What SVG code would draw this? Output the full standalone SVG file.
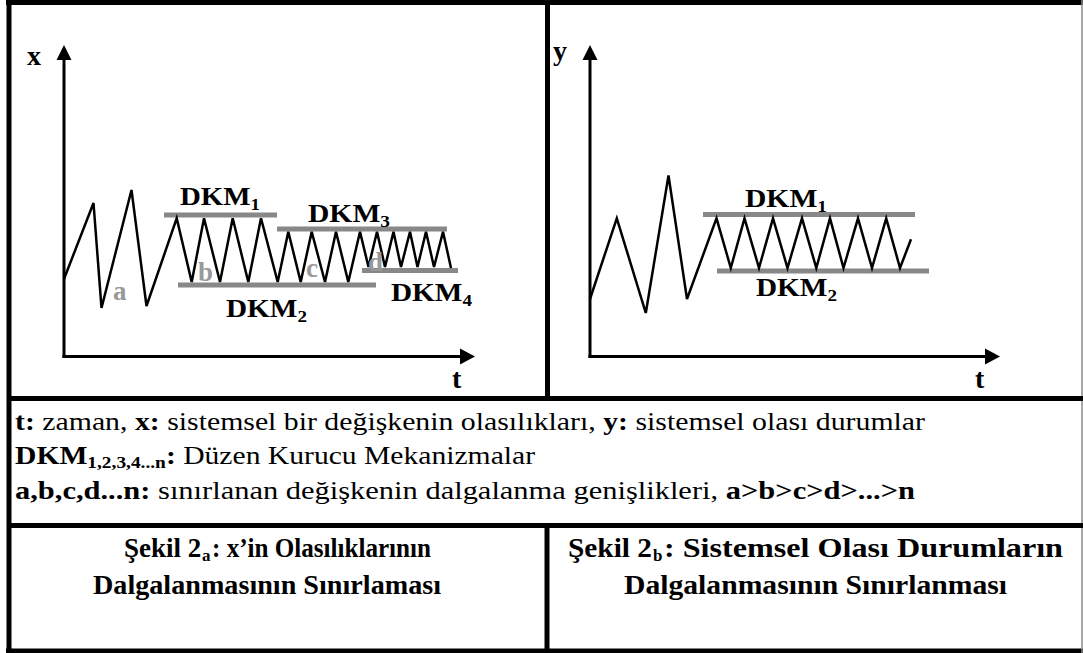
<svg xmlns="http://www.w3.org/2000/svg" width="1083" height="653" viewBox="0 0 1083 653" font-family="'Liberation Serif', Tinos, 'Times New Roman', Times, 'DejaVu Serif', serif">
<style>
text{font-family:'Liberation Serif', Tinos, 'Times New Roman', Times, 'DejaVu Serif', serif;fill:#000}
.b{font-weight:bold}
.lbl{font-size:28px;font-weight:bold}
.gl{font-size:27px;font-weight:bold;fill:#999}
.dkm{font-size:26px;font-weight:bold}
.sub{font-size:17px}
.body{font-size:26px}
.cap{font-size:27px;font-weight:bold}
.capsub{font-size:17px;font-weight:bold}
.frame{stroke:#000;stroke-width:5;fill:none}
.axis{stroke:#000;stroke-width:3;fill:none}
.zig{stroke:#000;stroke-width:2.5;fill:none;stroke-linejoin:miter}
.lim{stroke:#888;stroke-width:5}
</style>
<rect x="0" y="0" width="1083" height="653" fill="#fff"/>
<g id="frame">
<line class="frame" x1="6" y1="2.5" x2="1083" y2="2.5"/>
<line class="frame" x1="9" y1="0" x2="9" y2="653"/>
<line class="frame" x1="6" y1="651" x2="1083" y2="651"/>
<line x1="1082" y1="0" x2="1082" y2="653" stroke="#888" stroke-width="1.5"/>
<line class="frame" x1="547.5" y1="0" x2="547.5" y2="398"/>
<line class="frame" x1="9" y1="398.5" x2="1083" y2="398.5"/>
<line class="frame" x1="9" y1="525.5" x2="1083" y2="525.5"/>
<line class="frame" x1="547" y1="525" x2="547" y2="653"/>
</g>
<g id="panel-a">
<g id="axes-a">
<line class="axis" x1="64" y1="58" x2="64" y2="358"/>
<line class="axis" x1="62.5" y1="356.5" x2="462" y2="356.5"/>
<polygon points="64,45 71.5,60 56.5,60" fill="#000"/>
<polygon points="475,356.5 460,348.5 460,364.5" fill="#000"/>
<text class="lbl" x="27" y="65">x</text>
<text class="lbl" x="452" y="388">t</text>
</g>
<g id="limits-a">
<line class="lim" x1="164" y1="215" x2="277" y2="215"/>
<line class="lim" x1="277" y1="229" x2="447" y2="229"/>
<line class="lim" x1="178" y1="285" x2="376" y2="285"/>
<line class="lim" x1="362" y1="270.5" x2="458" y2="270.5"/>
</g>
<polyline id="wave-a" class="zig" points="64,279 93.5,203 101.5,308 131.5,190 146.5,306 176.7,218.3 191.7,282 204,218.3 220,282 232.7,218.3 248.3,282 261,218.3 277.7,282 288.3,231.7 300.7,282 311.7,231.7 325,282 336,231.7 348.3,282 360,231.7 368.5,267 377,231.7 385,267 393.5,231.7 401,267 410,231.7 417.5,267 426,231.7 434,267 443,231.7 451,268"/>
<g id="labels-a">
<text class="dkm" x="180" y="205" textLength="80" lengthAdjust="spacingAndGlyphs">DKM<tspan class="sub" dy="5">1</tspan></text>
<text class="dkm" x="308" y="222" textLength="82" lengthAdjust="spacingAndGlyphs">DKM<tspan class="sub" dy="5">3</tspan></text>
<text class="dkm" x="226" y="317" textLength="81" lengthAdjust="spacingAndGlyphs">DKM<tspan class="sub" dy="5">2</tspan></text>
<text class="dkm" x="391" y="301" textLength="81" lengthAdjust="spacingAndGlyphs">DKM<tspan class="sub" dy="5">4</tspan></text>
<text class="gl" x="113" y="300">a</text>
<text class="gl" x="198" y="281">b</text>
<text class="gl" x="306" y="277">c</text>
<text class="gl" x="368" y="271">d</text>
</g>
</g>
<g id="panel-b">
<g id="axes-b">
<line class="axis" x1="590" y1="58" x2="590" y2="358"/>
<line class="axis" x1="588.5" y1="356.5" x2="987" y2="356.5"/>
<polygon points="590,45 597.5,60 582.5,60" fill="#000"/>
<polygon points="1000,356.5 985,348.5 985,364.5" fill="#000"/>
<text class="lbl" x="553" y="60">y</text>
<text class="lbl" x="975" y="388">t</text>
</g>
<g id="limits-b">
<line class="lim" x1="703" y1="214.5" x2="915" y2="214.5"/>
<line class="lim" x1="717" y1="271" x2="929" y2="271"/>
</g>
<polyline id="wave-b" class="zig" points="590,299 616.8,218.3 645.8,313 668.5,175.5 687,299 716.5,218.3 730.8,268 744.5,218.3 759,268 773,218.3 787.5,268 802,218.3 816.3,268 830,218.3 843.5,268 858,218.3 872,268 886.2,218.3 900,268 911,239.3"/>
<g id="labels-b">
<text class="dkm" x="745" y="207" textLength="82" lengthAdjust="spacingAndGlyphs">DKM<tspan class="sub" dy="5">1</tspan></text>
<text class="dkm" x="756" y="296" textLength="81" lengthAdjust="spacingAndGlyphs">DKM<tspan class="sub" dy="5">2</tspan></text>
</g>
</g>
<g id="legend">
<text class="body" x="15" y="429.5" textLength="910" lengthAdjust="spacingAndGlyphs"><tspan class="b">t:</tspan> zaman, <tspan class="b">x:</tspan> sistemsel bir değişkenin olasılıkları, <tspan class="b">y:</tspan> sistemsel olası durumlar</text>
<text class="body" x="15" y="464" textLength="520" lengthAdjust="spacingAndGlyphs"><tspan class="b">DKM</tspan><tspan class="b sub" dy="4">1,2,3,4...n</tspan><tspan class="b" dy="-4">:</tspan> Düzen Kurucu Mekanizmalar</text>
<text class="body" x="15" y="498.5" textLength="900" lengthAdjust="spacingAndGlyphs"><tspan class="b">a,b,c,d...n:</tspan> sınırlanan değişkenin dalgalanma genişlikleri, <tspan class="b">a&gt;b&gt;c&gt;d&gt;...&gt;n</tspan></text>
</g>
<g id="caption-a">
<text class="cap" x="124" y="557">Şekil 2</text>
<text class="capsub" x="202" y="561">a</text>
<text class="cap" x="212" y="557" textLength="219" lengthAdjust="spacingAndGlyphs">: x’in Olasılıklarının</text>
<text class="cap" x="93" y="594" textLength="348" lengthAdjust="spacingAndGlyphs">Dalgalanmasının Sınırlaması</text>
</g>
<g id="caption-b">
<text class="cap" x="568" y="557" textLength="84" lengthAdjust="spacingAndGlyphs">Şekil 2</text>
<text class="capsub" x="653" y="561">b</text>
<text class="cap" x="664" y="557" textLength="399" lengthAdjust="spacingAndGlyphs">: Sistemsel Olası Durumların</text>
<text class="cap" x="624" y="594" textLength="383" lengthAdjust="spacingAndGlyphs">Dalgalanmasının Sınırlanması</text>
</g>
</svg>
